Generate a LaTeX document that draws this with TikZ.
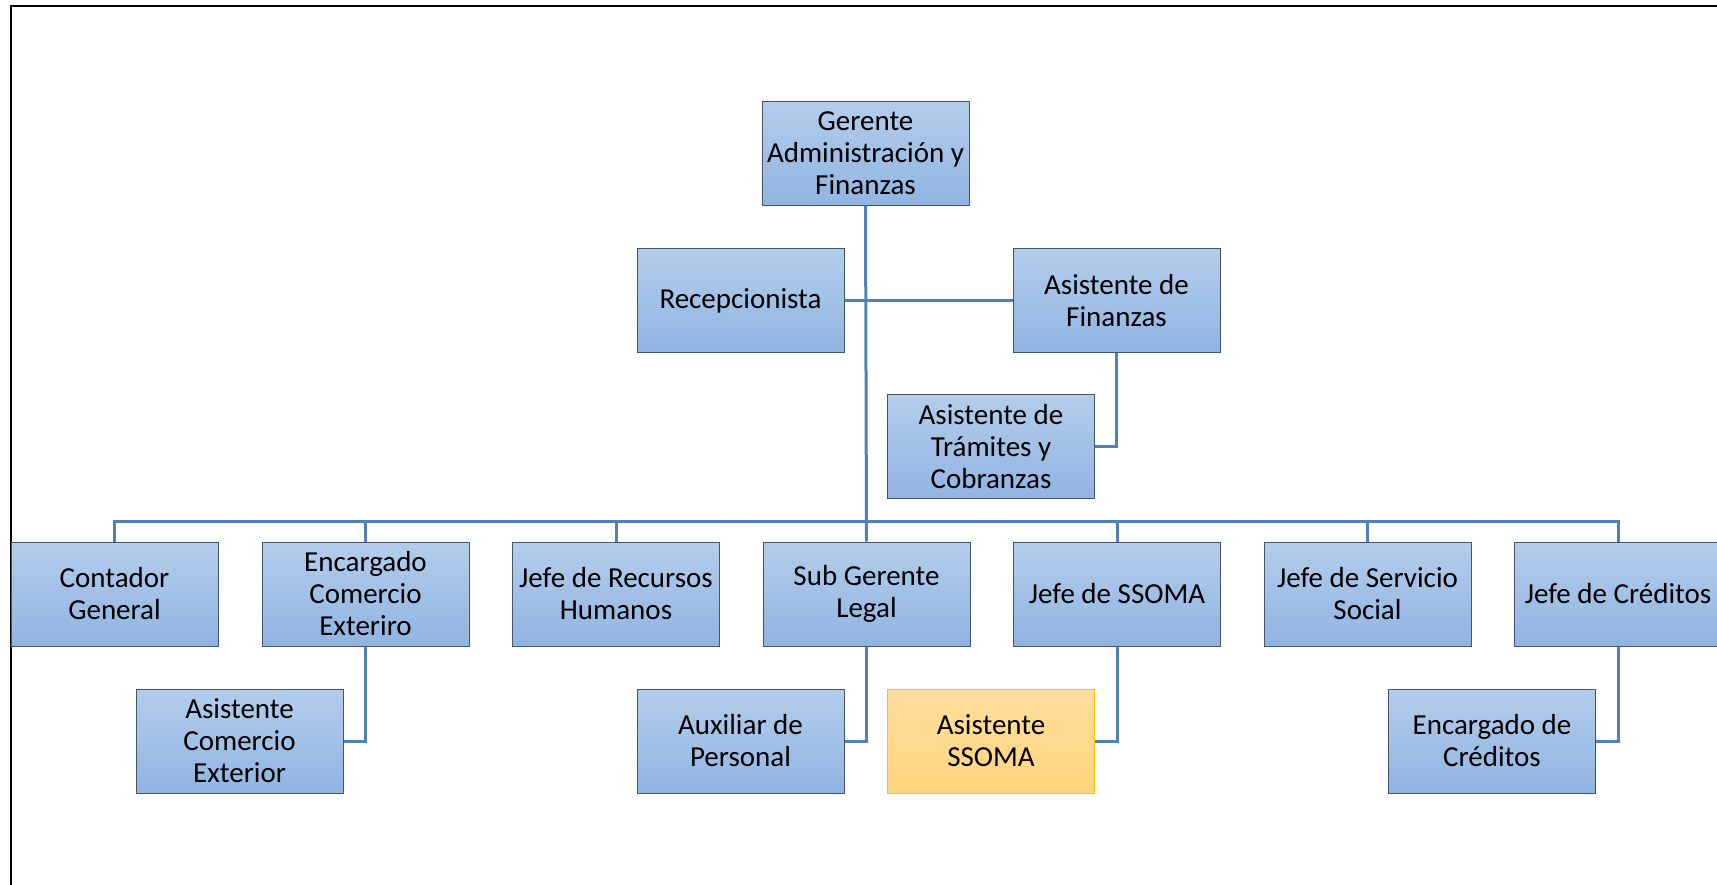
\documentclass[tikz,border=0pt]{standalone}
\usepackage{fontspec}
\setmainfont{Carlito}
\usetikzlibrary{backgrounds}
\definecolor{boxtop}{HTML}{B3CDEB}
\definecolor{boxbot}{HTML}{90B4E2}
\definecolor{boxline}{HTML}{44546A}
\definecolor{link}{HTML}{4F81BD}
\definecolor{hitop}{HTML}{FFDE9E}
\definecolor{hibot}{HTML}{FFD47C}
\definecolor{hiline}{HTML}{FFC000}
\tikzset{
  box/.style={draw=boxline, line width=1pt, top color=boxtop, bottom color=boxbot,
    minimum width=207pt, minimum height=104pt, inner sep=0pt, align=center,
    font=\fontsize{29}{32}\selectfont},
  hibox/.style={box, draw=hiline, top color=hitop, bottom color=hibot},
  link/.style={draw=link, line width=3pt},
}
\begin{document}
\begin{tikzpicture}[x=1pt, y=-1pt]
\useasboundingbox (0,0) rectangle (1717,885);
\begin{scope}
\clip (0,0) rectangle (1717,885);
\draw[line width=2.5pt, black] (11,6) rectangle (1740,910);

% head and staff
\node[box] (gaf) at (865.5,153.5) {Gerente\\Administración y\\Finanzas};
\node[box] (rec) at (740.5,300.5) {Recepcionista};
\node[box] (asf) at (1116.5,300.5) {Asistente de\\Finanzas};
\node[box] (atc) at (991,446.5) {Asistente de\\Trámites y\\Cobranzas};

% department heads
\node[box] (cg)  at (114.5,594) {Contador\\General};
\node[box] (enc) at (365.5,594) {Encargado\\Comercio\\Exteriro};
\node[box] (jrh) at (616,594)   {Jefe de Recursos\\Humanos};
\node[box] (sgl) at (866.5,594) {Sub Gerente\\Legal};
\node[box] (jss) at (1117,594)  {Jefe de SSOMA};
\node[box] (jsv) at (1367.5,594){Jefe de Servicio\\Social};
\node[box] (jcr) at (1618,594)  {Jefe de Créditos};

% assistants
\node[box]   (ace) at (239.5,741) {Asistente\\Comercio\\Exterior};
\node[box]   (aux) at (740.5,741) {Auxiliar de\\Personal};
\node[hibox] (ass) at (991,741)   {Asistente\\SSOMA};
\node[box]   (ecr) at (1492,741)  {Encargado de\\Créditos};

\coordinate (bus) at (866.5,521);

\begin{scope}[on background layer]
\draw[link] (gaf.south) -- (sgl.north);
\draw[link] (rec.east) -- (asf.west);
\draw[link] (asf.south) |- (atc.east);
\draw[link] (cg.north) |- (bus) -| (jcr.north);
\foreach \n in {enc,jrh,jss,jsv}
  \draw[link] (\n.north) -- (\n.north |- bus);
\draw[link] (enc.south) |- (ace.east);
\draw[link] (sgl.south) |- (aux.east);
\draw[link] (jss.south) |- (ass.east);
\draw[link] (jcr.south) |- (ecr.east);
\end{scope}
\end{scope}
\end{tikzpicture}
\end{document}
